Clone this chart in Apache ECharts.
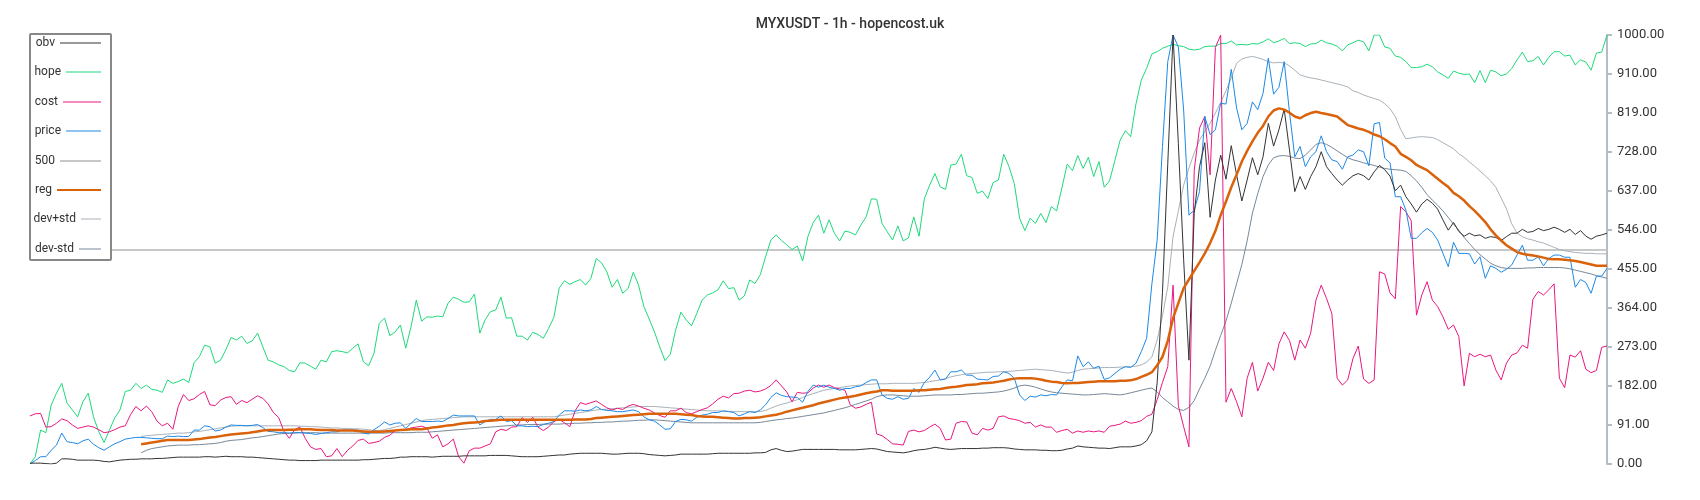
<!DOCTYPE html>
<html><head><meta charset="utf-8">
<script src="https://cdn.jsdelivr.net/npm/echarts@6/dist/echarts.min.js"></script>
<style>html,body{margin:0;padding:0;background:#fff}#c{width:1700px;height:500px}</style>
</head><body><div id="c"></div>
<script>
const yTicks = [0, 91, 182, 273, 364, 455, 546, 637, 728, 819, 910, 1000];
const level500 = 500;

const hope = [0,17,79,73,137,165,188,142,126,110,
145,165,110,75,50,79,107,126,169,172,
188,176,184,174,172,167,196,188,192,198,
190,236,250,277,273,235,242,266,295,289,
298,281,287,305,273,242,238,231,227,218,
215,236,235,228,221,242,238,262,264,262,
259,270,280,238,229,258,328,340,299,308,
324,270,320,382,333,343,342,345,343,375,
389,384,377,378,396,305,336,355,359,389,
340,341,298,298,289,307,302,293,316,342,
410,427,419,425,430,417,433,479,469,448,
412,430,398,409,447,417,367,338,308,273,
241,256,312,354,336,322,351,382,394,399,
406,427,409,411,382,392,429,421,441,483,
522,534,521,511,500,508,473,530,563,580,
538,569,538,520,543,540,534,557,576,618,
617,561,541,522,555,520,527,576,531,618,
650,677,646,640,697,699,722,672,668,631,
636,619,656,662,722,693,654,573,544,573,
561,584,563,600,590,644,699,684,719,689,
715,670,705,645,660,707,755,777,763,840,
895,922,956,961,969,974,978,975,973,967,
965,967,973,974,974,980,980,986,977,978,
977,980,979,984,991,982,986,992,980,982,
980,973,979,980,988,982,979,974,963,977,
982,988,984,963,1000,1000,972,969,951,948,
938,924,924,926,932,926,914,907,899,916,
911,908,909,889,917,889,918,914,905,909,
922,942,960,938,940,950,930,948,961,961,
951,953,930,942,937,918,958,960,1000];

const price = [0,8,17,17,32,44,72,52,50,47,
54,58,46,38,32,40,47,52,58,60,
62,62,61,60,59,59,65,64,65,64,
64,79,79,89,87,77,79,86,91,90,
90,89,90,92,85,76,75,73,73,72,
73,73,72,71,69,71,73,75,75,79,
79,79,79,72,70,80,88,98,91,95,
96,83,95,106,99,99,99,100,99,106,
114,112,112,112,112,91,99,104,104,112,
99,101,89,89,87,88,87,92,95,99,
114,124,124,123,126,124,126,134,127,125,
124,122,122,124,126,122,110,103,100,91,
81,82,99,104,103,100,109,114,116,120,
120,124,122,120,112,117,122,120,126,138,
155,166,160,157,156,155,144,169,184,179,
184,179,176,172,176,176,180,182,190,196,
196,161,153,151,157,151,153,176,167,190,
202,219,196,198,215,215,219,207,207,198,
197,196,204,205,215,211,200,161,148,158,
156,161,159,162,161,180,196,194,252,227,
238,223,228,197,201,211,221,227,225,235,
262,293,420,522,740,938,1000,972,825,580,
592,635,810,768,779,841,839,920,830,779,
794,844,826,864,946,862,878,938,820,716,
740,693,716,728,765,728,709,705,687,716,
720,732,728,695,793,796,713,702,623,623,
592,526,526,539,549,540,522,491,460,517,
491,491,490,466,483,433,462,456,447,454,
464,487,510,475,475,483,462,479,487,487,
482,482,412,430,423,398,438,438,456];

const cost = [112,117,118,86,87,95,105,101,91,83,
86,89,86,80,73,75,80,86,89,115,
134,124,135,122,100,89,95,81,134,162,
148,152,162,169,138,136,149,155,157,139,
148,143,151,159,153,140,120,108,76,60,
80,86,60,40,34,36,17,19,36,17,
32,42,55,58,48,50,53,62,67,78,
78,80,84,86,88,84,60,68,40,47,
58,17,2,31,37,37,42,47,75,81,
78,86,87,108,97,109,86,78,86,99,
104,96,87,124,143,139,143,147,139,131,
126,130,127,135,139,135,130,126,119,113,
109,124,124,130,120,117,122,127,131,140,
151,158,154,164,165,170,172,168,170,175,
183,196,182,168,145,167,165,166,177,184,
179,184,178,175,172,138,130,133,139,144,
70,66,57,47,46,44,76,79,75,78,
86,93,83,56,58,95,99,98,72,68,
83,79,83,110,112,106,104,101,95,97,
86,91,86,86,74,78,81,72,77,74,
77,75,77,74,88,90,93,100,95,97,
101,111,116,150,190,227,417,136,87,40,
685,783,810,674,971,1000,144,176,145,110,
200,237,170,200,237,218,280,308,288,242,
289,270,305,382,417,386,351,200,184,196,
246,275,198,188,196,448,443,399,385,600,
588,567,347,394,425,382,367,343,314,324,
297,182,258,250,256,250,254,219,196,235,
254,259,277,270,384,402,394,406,420,200,
178,254,249,264,221,213,218,272,275];

const obv = [2,2,2,1,0,2,12,12,11,9,
9,9,9,8,6,5,7,9,10,11,
11,12,12,12,13,13,14,15,16,16,
16,16,16,17,17,16,17,18,17,17,
17,16,16,15,14,13,12,11,10,9,
9,8,8,8,8,9,9,9,9,9,
9,9,9,10,10,11,12,13,13,14,
16,16,17,17,17,17,16,17,18,18,
18,18,19,19,19,19,19,20,20,20,
20,19,18,17,17,17,17,18,19,20,
21,21,23,24,25,25,25,25,25,24,
23,23,24,25,25,25,24,22,21,20,
19,20,21,23,23,23,23,23,23,24,
25,25,25,25,25,25,25,26,26,27,
33,36,32,29,30,32,34,34,34,34,
34,34,34,33,33,33,33,34,35,36,
35,32,29,28,27,26,28,31,33,34,
36,39,37,35,34,35,36,36,36,36,
37,37,38,38,38,37,35,34,33,33,
33,32,32,31,31,32,35,37,42,40,
39,38,37,37,36,38,40,40,40,42,
45,54,75,190,400,700,1000,747,476,242,
584,693,749,575,662,720,664,742,674,613,
662,714,674,716,794,741,779,827,732,635,
670,640,670,693,728,693,677,662,650,662,
672,677,672,662,681,696,686,671,637,650,
623,606,587,606,617,608,594,569,545,563,
542,531,538,532,534,526,530,528,521,530,
538,538,547,540,542,549,544,547,552,547,
540,547,535,544,531,524,531,534,538];

const reg = [null,null,null,null,null,null,null,null,null,null,
null,null,null,null,null,null,null,null,null,null,
null,46,48,50,52,54,56,56,56,56,
56,57,58,60,62,63,65,67,69,70,
71,72,74,76,78,79,79,79,79,80,
80,81,81,81,80,79,79,79,78,78,
78,78,77,76,75,75,75,76,77,78,
79,80,81,81,81,83,85,86,88,90,
91,93,95,96,97,98,100,101,102,103,
103,103,103,103,103,103,103,103,103,103,
103,103,103,104,104,104,105,107,108,109,
110,111,112,113,114,115,116,117,117,117,
117,117,117,116,115,114,112,111,110,110,
109,108,107,106,106,107,107,108,109,111,
113,115,118,122,125,128,131,134,137,141,
144,147,150,153,155,157,159,162,165,167,
169,172,172,171,171,171,171,171,172,172,
173,174,175,177,179,180,182,184,185,186,
188,189,190,192,194,197,199,200,200,200,
199,197,194,192,191,189,188,189,189,190,
191,192,193,193,193,193,194,194,195,198,
203,208,214,230,250,287,340,375,410,430,
450,470,491,515,543,580,612,645,674,705,
730,752,772,788,810,824,829,826,819,810,
806,813,818,821,818,816,813,810,800,790,
786,782,779,774,768,764,757,748,740,723,
716,708,697,691,685,675,665,655,646,632,
624,614,601,590,577,564,547,533,521,510,
502,494,490,488,486,484,481,478,477,477,
476,475,473,471,468,465,462,462,462];

const devPlus = [null,null,null,null,null,null,null,null,null,null,
null,null,null,null,null,null,null,null,null,null,
null,64,66,67,68,69,70,71,72,72,
73,75,76,78,80,82,84,86,88,89,
89,89,89,89,89,89,89,89,89,89,
89,88,88,87,87,86,85,84,84,83,
83,82,82,81,80,78,78,80,83,86,
89,92,95,98,101,103,104,105,106,107,
108,109,110,110,110,110,110,110,110,110,
110,110,110,110,110,110,110,110,110,110,
112,114,116,118,120,122,124,126,127,128,
129,130,131,132,133,134,134,134,134,133,
132,131,130,129,128,127,126,125,124,124,
124,123,123,122,122,122,122,122,122,125,
130,135,139,142,146,150,155,160,164,168,
172,174,176,178,180,182,183,184,185,186,
187,187,187,188,188,188,188,188,189,190,
192,194,196,199,203,206,208,210,211,212,
213,214,214,215,215,216,217,218,219,220,
221,220,219,218,216,214,212,214,218,221,
222,223,224,225,225,225,226,226,227,228,
231,237,250,289,345,413,530,590,650,690,
725,755,775,794,818,843,870,900,934,944,
948,950,947,943,938,935,936,935,928,918,
907,903,900,898,895,892,889,886,883,879,
870,866,860,856,852,848,840,828,810,780,
758,760,762,763,762,761,756,749,742,735,
723,715,704,694,683,672,660,645,620,595,
560,538,530,525,522,518,515,510,505,500,
497,495,493,492,491,491,490,490,490];

const devMinus = [null,null,null,null,null,null,null,null,null,null,
null,null,null,null,null,null,null,null,null,null,
null,26,32,36,38,40,42,43,44,44,
44,45,45,46,47,48,50,53,55,56,
57,59,61,62,64,66,68,70,71,72,
72,73,73,73,73,72,72,72,72,72,
72,72,72,72,72,72,72,72,73,73,
73,73,73,74,74,74,75,76,77,78,
79,80,81,82,83,84,85,86,87,88,
89,90,91,91,92,92,92,93,93,93,
93,94,94,95,95,96,96,97,97,98,
98,99,100,100,101,102,102,103,103,102,
101,100,99,98,97,96,96,96,96,96,
96,96,96,96,96,96,96,96,97,99,
101,103,104,106,107,109,111,113,115,117,
119,122,125,128,131,135,139,143,147,151,
157,160,161,161,160,159,158,158,158,159,
160,161,161,161,161,162,162,163,164,165,
165,166,167,168,170,173,177,182,184,182,
179,175,171,168,166,165,164,163,162,161,
161,162,163,164,163,162,161,163,166,169,
172,175,177,168,155,145,135,127,125,132,
148,175,200,228,265,300,333,375,420,465,
520,585,630,670,697,714,718,719,717,713,
712,720,732,745,749,745,738,730,722,714,
709,706,702,699,696,692,689,687,686,685,
682,672,660,645,628,615,603,590,575,559,
545,528,514,500,488,478,468,462,458,456,
456,456,456,457,457,458,458,458,458,458,
457,455,452,449,446,443,439,436,433];

const categories = hope.map((_, i) => String(i));

const FONT = 'Roboto';
const legendItems = [
  { name: 'obv', w: 41, op: 0.5 },
  { name: 'hope', w: 35, op: 0.5 },
  { name: 'cost', w: 38, op: 0.5 },
  { name: 'price', w: 35, op: 0.5 },
  { name: '500', w: 41, op: 1 },
  { name: 'reg', w: 44, op: 1 },
  { name: 'dev+std', w: 20, op: 0.5 },
  { name: 'dev-std', w: 22, op: 0.5 }
];

const legends = legendItems.map((it, k) => ({
  data: [it.name],
  orient: 'vertical',
  right: 1700 - 101,
  top: Math.round(45 + k * 29.4 - 8),
  icon: 'rect',
  itemWidth: it.w,
  itemHeight: 2,
  align: 'right',
  itemGap: 0,
  padding: 0,
  zlevel: 1,
  z: 60,
  selectedMode: false,
  itemStyle: { opacity: it.op, borderWidth: 0 },
  textStyle: { fontFamily: FONT, fontSize: 12, color: '#333' }
}));

function lineSeries(name, data, color, width, z) {
  return {
    name, type: 'line', data, symbol: 'none', showSymbol: false,
    connectNulls: false, z: z || 2,
    lineStyle: { color, width }, itemStyle: { color },
    emphasis: { disabled: true }
  };
}

const option = {
  animation: false,
  backgroundColor: '#fff',
  title: {
    text: 'MYXUSDT - 1h - hopencost.uk',
    left: 'center', top: 12,
    textStyle: { fontFamily: FONT, fontSize: 14, fontWeight: 500, color: '#333' }
  },
  legend: legends,
  graphic: {
    zlevel: 1,
    elements: [{
      type: 'rect', z: 50, zlevel: 1,
      shape: { x: 30, y: 34, width: 81, height: 226, r: 1 },
      style: { fill: '#fff', stroke: '#888', lineWidth: 2 }
    }]
  },
  grid: { left: 30, right: 93, top: 35, bottom: 36 },
  xAxis: {
    type: 'category', data: categories, boundaryGap: false,
    show: false
  },
  yAxis: {
    type: 'value', position: 'right', min: yTicks[0], max: yTicks[yTicks.length - 1],
    interval: yTicks[1] - yTicks[0],
    axisLine: { show: true, lineStyle: { color: '#b4bcc4', width: 2 } },
    axisTick: { show: true, length: 5, lineStyle: { color: '#b4bcc4', width: 2 } },
    splitLine: { show: false },
    axisLabel: { margin: 10, fontFamily: FONT, fontSize: 13, color: '#333',
      formatter: v => Number(v).toFixed(2) }
  },
  series: [
    {
      name: '500', type: 'line', data: [], symbol: 'none', z: 1,
      lineStyle: { color: '#c8c8c8', width: 2 }, itemStyle: { color: '#c8c8c8' },
      markLine: {
        silent: true, symbol: 'none', label: { show: false }, z: 1,
        lineStyle: { color: '#c8c8c8', width: 2, type: 'solid' },
        data: [[{ coord: [categories[0], level500] }, { coord: [categories[categories.length - 1], level500] }]]
      }
    },
    lineSeries('dev+std', devPlus, '#a9b1b9', 1),
    lineSeries('dev-std', devMinus, '#778899', 1),
    lineSeries('hope', hope, '#1ed97a', 1),
    lineSeries('cost', cost, '#e8177f', 1),
    lineSeries('price', price, '#1e88e5', 1),
    lineSeries('reg', reg, '#d9620a', 2.5, 3),
    lineSeries('obv', obv, '#333333', 1)
  ]
};

const chart = echarts.init(document.getElementById('c'));
chart.setOption(option);
</script>
</body></html>
